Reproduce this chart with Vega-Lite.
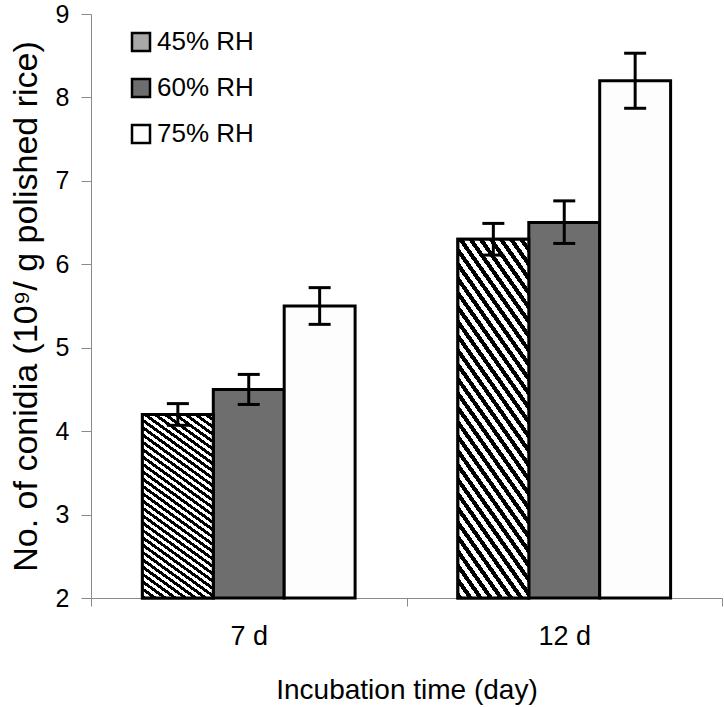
{
  "$schema": "https://vega.github.io/schema/vega-lite/v6.json",
  "width": 631,
  "height": 584,
  "autosize": {"type": "none"},
  "padding": {"left": 91, "top": 14, "right": 2, "bottom": 109},
  "background": "white",
  "config": {
    "font": "Liberation Sans",
    "view": {"stroke": null},
    "axis": {"grid": false, "domainColor": "#8a8a8a", "tickColor": "#8a8a8a", "labelColor": "black", "titleColor": "black", "labelFont": "Liberation Sans", "titleFont": "Liberation Sans", "titleFontWeight": "normal"}
  },
  "data": {
    "values": [
      {"day": "7 d", "rh": "45% RH", "value": 4.2, "lo": 4.07, "hi": 4.33},
      {"day": "7 d", "rh": "60% RH", "value": 4.5, "lo": 4.32, "hi": 4.68},
      {"day": "7 d", "rh": "75% RH", "value": 5.5, "lo": 5.28, "hi": 5.72},
      {"day": "12 d", "rh": "45% RH", "value": 6.3, "lo": 6.11, "hi": 6.49},
      {"day": "12 d", "rh": "60% RH", "value": 6.5, "lo": 6.25, "hi": 6.76},
      {"day": "12 d", "rh": "75% RH", "value": 8.2, "lo": 7.87, "hi": 8.53}
    ]
  },
  "encoding": {
    "x": {
      "field": "day", "type": "nominal", "sort": ["7 d", "12 d"],
      "scale": {"paddingInner": 0, "paddingOuter": 0},
      "axis": {"title": "Incubation time (day)", "labelAngle": 0, "tickBand": "extent", "tickSize": 8, "labelFontSize": 27, "titleFontSize": 28, "labelPadding": 17, "titlePadding": 27}
    },
    "xOffset": {"field": "rh", "type": "nominal", "scale": {"paddingInner": 0, "paddingOuter": 0.725}}
  },
  "layer": [
    {
      "mark": {"type": "bar", "stroke": "black", "strokeWidth": 3},
      "encoding": {
        "y": {
          "field": "value", "type": "quantitative",
          "scale": {"domain": [2, 9], "zero": false, "nice": false},
          "axis": {"title": "No. of conidia (10⁹/ g polished rice)", "values": [2, 3, 4, 5, 6, 7, 8, 9], "format": "d", "tickSize": 10, "labelFontSize": 25, "titleFontSize": 34, "labelPadding": 12, "titlePadding": 12}
        },
        "y2": {"datum": 2},
        "fill": {
          "field": "rh", "type": "nominal",
          "scale": {"domain": ["45% RH", "60% RH", "75% RH"], "range": ["#a8a8a8", "#6e6e6e", "#fdfdfd"]},
          "legend": {
            "title": null, "orient": "none", "legendX": 37, "legendY": 15, "padding": 0,
            "symbolType": "square", "symbolSize": 324, "symbolStrokeColor": "black", "symbolStrokeWidth": 2.5,
            "labelFontSize": 26, "labelFont": "Liberation Sans", "labelColor": "black", "labelOffset": 3, "rowPadding": 18,
            "encode": {"symbols": {"update": {
              "stroke": {"value": "black"},
              "strokeWidth": {"value": 2.5},
              "fill": {"signal": "datum.value === '45% RH' ? {gradient: 'linear', x1: 0, y1: 1, x2: 1, y2: 0, stops: [{offset: 0, color: 'white'}, {offset: 0.22, color: 'white'}, {offset: 0.22, color: 'black'}, {offset: 0.38, color: 'black'}, {offset: 0.38, color: 'white'}, {offset: 0.5, color: 'white'}, {offset: 0.5, color: 'black'}, {offset: 0.64, color: 'black'}, {offset: 0.64, color: 'white'}, {offset: 1, color: 'white'}]} : scale('fill', datum.value)"}
            }}}
          }
        }
      }
    },
    {
      "transform": [{"filter": "datum.rh === '45% RH'"}],
      "mark": {"type": "bar", "stroke": "black", "strokeWidth": 3, "fill": {"gradient": "linear", "x1": 0, "y1": 1, "x2": 0.332, "y2": -0.187, "stops": [
        {"offset": 0, "color": "black"}, {"offset": 0.015625, "color": "black"}, {"offset": 0.015625, "color": "white"}, {"offset": 0.03125, "color": "white"},
        {"offset": 0.03125, "color": "black"}, {"offset": 0.046875, "color": "black"}, {"offset": 0.046875, "color": "white"}, {"offset": 0.0625, "color": "white"},
        {"offset": 0.0625, "color": "black"}, {"offset": 0.078125, "color": "black"}, {"offset": 0.078125, "color": "white"}, {"offset": 0.09375, "color": "white"},
        {"offset": 0.09375, "color": "black"}, {"offset": 0.109375, "color": "black"}, {"offset": 0.109375, "color": "white"}, {"offset": 0.125, "color": "white"},
        {"offset": 0.125, "color": "black"}, {"offset": 0.140625, "color": "black"}, {"offset": 0.140625, "color": "white"}, {"offset": 0.15625, "color": "white"},
        {"offset": 0.15625, "color": "black"}, {"offset": 0.171875, "color": "black"}, {"offset": 0.171875, "color": "white"}, {"offset": 0.1875, "color": "white"},
        {"offset": 0.1875, "color": "black"}, {"offset": 0.203125, "color": "black"}, {"offset": 0.203125, "color": "white"}, {"offset": 0.21875, "color": "white"},
        {"offset": 0.21875, "color": "black"}, {"offset": 0.234375, "color": "black"}, {"offset": 0.234375, "color": "white"}, {"offset": 0.25, "color": "white"},
        {"offset": 0.25, "color": "black"}, {"offset": 0.265625, "color": "black"}, {"offset": 0.265625, "color": "white"}, {"offset": 0.28125, "color": "white"},
        {"offset": 0.28125, "color": "black"}, {"offset": 0.296875, "color": "black"}, {"offset": 0.296875, "color": "white"}, {"offset": 0.3125, "color": "white"},
        {"offset": 0.3125, "color": "black"}, {"offset": 0.328125, "color": "black"}, {"offset": 0.328125, "color": "white"}, {"offset": 0.34375, "color": "white"},
        {"offset": 0.34375, "color": "black"}, {"offset": 0.359375, "color": "black"}, {"offset": 0.359375, "color": "white"}, {"offset": 0.375, "color": "white"},
        {"offset": 0.375, "color": "black"}, {"offset": 0.390625, "color": "black"}, {"offset": 0.390625, "color": "white"}, {"offset": 0.40625, "color": "white"},
        {"offset": 0.40625, "color": "black"}, {"offset": 0.421875, "color": "black"}, {"offset": 0.421875, "color": "white"}, {"offset": 0.4375, "color": "white"},
        {"offset": 0.4375, "color": "black"}, {"offset": 0.453125, "color": "black"}, {"offset": 0.453125, "color": "white"}, {"offset": 0.46875, "color": "white"},
        {"offset": 0.46875, "color": "black"}, {"offset": 0.484375, "color": "black"}, {"offset": 0.484375, "color": "white"}, {"offset": 0.5, "color": "white"},
        {"offset": 0.5, "color": "black"}, {"offset": 0.515625, "color": "black"}, {"offset": 0.515625, "color": "white"}, {"offset": 0.53125, "color": "white"},
        {"offset": 0.53125, "color": "black"}, {"offset": 0.546875, "color": "black"}, {"offset": 0.546875, "color": "white"}, {"offset": 0.5625, "color": "white"},
        {"offset": 0.5625, "color": "black"}, {"offset": 0.578125, "color": "black"}, {"offset": 0.578125, "color": "white"}, {"offset": 0.59375, "color": "white"},
        {"offset": 0.59375, "color": "black"}, {"offset": 0.609375, "color": "black"}, {"offset": 0.609375, "color": "white"}, {"offset": 0.625, "color": "white"},
        {"offset": 0.625, "color": "black"}, {"offset": 0.640625, "color": "black"}, {"offset": 0.640625, "color": "white"}, {"offset": 0.65625, "color": "white"},
        {"offset": 0.65625, "color": "black"}, {"offset": 0.671875, "color": "black"}, {"offset": 0.671875, "color": "white"}, {"offset": 0.6875, "color": "white"},
        {"offset": 0.6875, "color": "black"}, {"offset": 0.703125, "color": "black"}, {"offset": 0.703125, "color": "white"}, {"offset": 0.71875, "color": "white"},
        {"offset": 0.71875, "color": "black"}, {"offset": 0.734375, "color": "black"}, {"offset": 0.734375, "color": "white"}, {"offset": 0.75, "color": "white"},
        {"offset": 0.75, "color": "black"}, {"offset": 0.765625, "color": "black"}, {"offset": 0.765625, "color": "white"}, {"offset": 0.78125, "color": "white"},
        {"offset": 0.78125, "color": "black"}, {"offset": 0.796875, "color": "black"}, {"offset": 0.796875, "color": "white"}, {"offset": 0.8125, "color": "white"},
        {"offset": 0.8125, "color": "black"}, {"offset": 0.828125, "color": "black"}, {"offset": 0.828125, "color": "white"}, {"offset": 0.84375, "color": "white"},
        {"offset": 0.84375, "color": "black"}, {"offset": 0.859375, "color": "black"}, {"offset": 0.859375, "color": "white"}, {"offset": 0.875, "color": "white"},
        {"offset": 0.875, "color": "black"}, {"offset": 0.890625, "color": "black"}, {"offset": 0.890625, "color": "white"}, {"offset": 0.90625, "color": "white"},
        {"offset": 0.90625, "color": "black"}, {"offset": 0.921875, "color": "black"}, {"offset": 0.921875, "color": "white"}, {"offset": 0.9375, "color": "white"},
        {"offset": 0.9375, "color": "black"}, {"offset": 0.953125, "color": "black"}, {"offset": 0.953125, "color": "white"}, {"offset": 0.96875, "color": "white"},
        {"offset": 0.96875, "color": "black"}, {"offset": 0.984375, "color": "black"}, {"offset": 0.984375, "color": "white"}, {"offset": 1, "color": "white"}
      ]}},
      "encoding": {"y": {"field": "value", "type": "quantitative"}, "y2": {"datum": 2}}
    },
    {
      "mark": {"type": "rule", "color": "black", "strokeWidth": 3},
      "encoding": {"y": {"field": "lo", "type": "quantitative"}, "y2": {"field": "hi"}}
    },
    {
      "mark": {"type": "tick", "color": "black", "thickness": 3, "size": 22, "opacity": 1},
      "encoding": {"y": {"field": "lo", "type": "quantitative"}}
    },
    {
      "mark": {"type": "tick", "color": "black", "thickness": 3, "size": 22, "opacity": 1},
      "encoding": {"y": {"field": "hi", "type": "quantitative"}}
    }
  ]
}
